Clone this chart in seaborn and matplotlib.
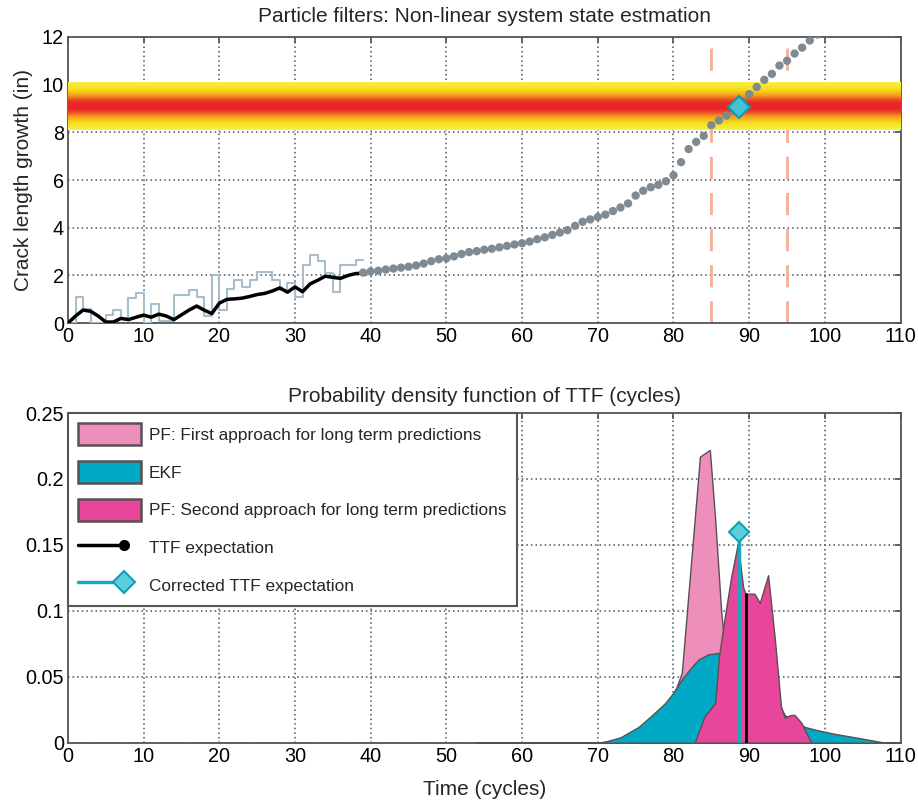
import numpy as np
import matplotlib
matplotlib.use("Agg")
import matplotlib.pyplot as plt
import seaborn as sns
from matplotlib.colors import LinearSegmentedColormap
from matplotlib.patches import Patch
from matplotlib.lines import Line2D
from matplotlib.legend_handler import HandlerBase
from matplotlib.ticker import FormatStrFormatter

# ---- top panel data ----
est_t = list(range(0, 40))
est_v = [0, 0.3, 0.55, 0.5, 0.3, 0.05, 0.05, 0.2, 0.15, 0.25,
         0.34, 0.25, 0.38, 0.3, 0.15, 0.35, 0.55, 0.72, 0.55, 0.4,
         0.84, 1.0, 1.02, 1.05, 1.12, 1.2, 1.25, 1.35, 1.48, 1.3,
         1.52, 1.32, 1.65, 1.8, 1.97, 1.92, 1.88, 2.0, 2.08, 2.1]

meas_t = list(range(0, 40))
meas_v = [0, 1.1, 0.6, 0, 0, 0.35, 0.55, 0.2, 1.05, 1.25,
          0, 0.8, 0.1, 0.1, 1.2, 1.2, 1.4, 1.1, 0.3, 2.0,
          0.55, 1.45, 1.8, 1.5, 1.8, 2.15, 2.15, 1.8, 1.4, 1.7,
          1.1, 2.45, 2.85, 2.6, 2.1, 1.3, 2.45, 2.45, 2.65, 2.65]

pred_t = list(range(39, 100))
pred_v = [2.12, 2.17, 2.2, 2.25, 2.29, 2.33, 2.37, 2.42, 2.5, 2.6,
          2.68, 2.72, 2.8, 2.9, 2.98, 3.02, 3.08, 3.12, 3.18, 3.24,
          3.3, 3.35, 3.42, 3.52, 3.6, 3.7, 3.8, 3.9, 4.08, 4.25,
          4.35, 4.45, 4.55, 4.7, 4.85, 5.02, 5.35, 5.55, 5.7, 5.8,
          5.95, 6.2, 6.75, 7.3, 7.6, 7.85, 8.3, 8.5, 8.7, 8.95,
          9.1, 9.6, 9.9, 10.2, 10.45, 10.8, 11.0, 11.3, 11.55, 11.85, 12.1]

threshold_center = 9.1
threshold_half = 1.0
bounds_t = [85, 95]
cross_t, cross_v = 88.6, 9.05

# ---- bottom panel data ----
pf1_t = [54, 70, 76, 79, 81.1, 82.3, 83.5, 84.8, 85.5, 86.3, 87.2, 88.2, 90, 110]
pf1_v = [0, 0, 0.005, 0.02, 0.053, 0.135, 0.217, 0.222, 0.17, 0.1, 0.045, 0.01, 0, 0]

ekf_t = [70.5, 73, 75.4, 77, 78.9, 80, 81.1, 82.2, 83.3, 84.6, 85.9, 87, 88, 89,
         90, 91, 92, 93, 94, 94.7, 96, 97.3, 98.6, 101, 103, 105, 107.9]
ekf_v = [0, 0.004, 0.012, 0.02, 0.03, 0.038, 0.048, 0.056, 0.063, 0.067, 0.068, 0.066,
         0.062, 0.057, 0.052, 0.046, 0.04, 0.034, 0.028, 0.021, 0.016, 0.012, 0.01,
         0.007, 0.005, 0.003, 0]

pf2_t = [82.8, 84.1, 85.5, 86, 86.8, 87.6, 88.5, 89.2, 89.5, 90.7, 91.4, 92.5,
         93.4, 94.2, 94.7, 95.5, 96, 96.9, 98.2]
pf2_v = [0, 0.02, 0.03, 0.065, 0.096, 0.125, 0.151, 0.118, 0.113, 0.113, 0.106,
         0.127, 0.078, 0.0275, 0.019, 0.021, 0.021, 0.015, 0]

ttf_t, ttf_v = 89.55, 0.113
cttf_t, cttf_v = 88.6, 0.16

labels = ["PF: First approach for long term predictions", "EKF",
          "PF: Second approach for long term predictions", "TTF expectation",
          "Corrected TTF expectation"]

c_pf1 = "#EE8EBB"
c_ekf = "#00A9C6"
c_pf2 = "#E8469A"
c_edge = "#5a4f52"
c_cttf = "#1AA8BE"


class EndMarker(HandlerBase):
    # line from the left, marker at ~3/4 of the handle
    def create_artists(self, legend, orig, xd, yd, w, h, fs, trans):
        y = (h - yd) / 2
        xm = -xd + 0.72 * w
        ln = Line2D([-xd, xm], [y, y], color=orig.get_color(),
                    lw=orig.get_linewidth(), transform=trans)
        mk = Line2D([xm], [y], marker=orig.get_marker(), ms=orig.get_markersize(),
                    mfc=orig.get_markerfacecolor(), mec=orig.get_markeredgecolor(),
                    mew=orig.get_markeredgewidth(), ls="none", transform=trans)
        return [ln, mk]


sns.set_theme(style="white")
plt.rcParams["font.family"] = ["Liberation Sans", "DejaVu Sans"]
plt.rcParams["axes.edgecolor"] = "#555555"

fig = plt.figure(figsize=(9.18, 8.02), dpi=100)
ax1 = fig.add_axes([0.074, 0.597, 0.907, 0.357])
ax2 = fig.add_axes([0.074, 0.074, 0.907, 0.411])


def style_axes(ax):
    ax.grid(True, linestyle=(0, (1, 2)), color="#3f5565", linewidth=1.1)
    ax.set_axisbelow(True)
    ax.tick_params(direction="in", length=4, top=True, right=True,
                   labelsize=14.3, colors="#555555", labelcolor="black", pad=3)
    for s in ax.spines.values():
        s.set_linewidth(1.3)
        s.set_color("#555555")
    ax.set_xlim(0, 110)
    ax.set_xticks(range(0, 111, 10))


# ---- top ----
style_axes(ax1)
ax1.set_ylim(0, 12)
ax1.set_yticks(range(0, 13, 2))

for bt in bounds_t:
    ax1.axvline(bt, color="#F6AE96", lw=2, dashes=(8, 5), zorder=2)

cmap = LinearSegmentedColormap.from_list(
    "band", [(0, "#F6F04A"), (0.3, "#F7DF18"), (0.55, "#F4A21C"),
             (0.75, "#EC4A26"), (0.88, "#E8282A"), (1, "#E8262A")])
grad = 1 - np.abs(np.linspace(-1, 1, 200))
ax1.imshow(grad[:, None], extent=(0, 110, threshold_center - threshold_half,
                                  threshold_center + threshold_half),
           aspect="auto", cmap=cmap, origin="lower", zorder=3)

sns.lineplot(x=meas_t, y=meas_v, ax=ax1, color="#A9BECD", lw=1.5,
             drawstyle="steps-post", zorder=4)
sns.lineplot(x=est_t, y=est_v, ax=ax1, color="black", lw=2.5, zorder=5)
sns.scatterplot(x=pred_t, y=pred_v, ax=ax1, color="#7F8A92", s=36,
                edgecolor="none", zorder=6)
ax1.plot([cross_t], [cross_v], marker="D", ms=11, mfc="#45C3D3",
         mec="#0C9BB2", mew=1.5, zorder=7)

ax1.set_title("Particle filters: Non-linear system state estmation",
              fontsize=15, pad=11)
ax1.set_ylabel("Crack length growth (in)", fontsize=15, labelpad=6)
ax1.set_xlabel("")

# ---- bottom ----
style_axes(ax2)
ax2.set_ylim(0, 0.25)
ax2.set_yticks([0, 0.05, 0.1, 0.15, 0.2, 0.25])
ax2.yaxis.set_major_formatter(FormatStrFormatter("%g"))

ax2.fill_between(pf1_t, pf1_v, color=c_pf1, edgecolor=c_edge, lw=1, zorder=3)
ax2.fill_between(ekf_t, ekf_v, color=c_ekf, edgecolor=c_edge, lw=1, zorder=4)
ax2.fill_between(pf2_t, pf2_v, color=c_pf2, edgecolor=c_edge, lw=1, zorder=5)
ax2.plot([ttf_t, ttf_t], [0, ttf_v], color="black", lw=2, zorder=6)
ax2.plot([cttf_t, cttf_t], [0, cttf_v], color=c_cttf, lw=2.5, zorder=6)
ax2.plot([cttf_t], [cttf_v], marker="D", ms=10, mfc="#5CCFDC",
         mec="#10A0B5", mew=1.5, zorder=7)

handles = [
    Patch(facecolor=c_pf1, edgecolor=c_edge, lw=1.8),
    Patch(facecolor=c_ekf, edgecolor=c_edge, lw=1.8),
    Patch(facecolor=c_pf2, edgecolor=c_edge, lw=1.8),
    Line2D([0], [0], color="black", lw=2.5, marker="o", ms=7,
           mfc="black", mec="black", mew=1),
    Line2D([0], [0], color=c_cttf, lw=2.5, marker="D", ms=11,
           mfc="#5CCFDC", mec="#10A0B5", mew=1.5),
]
leg = ax2.legend(handles, labels, loc="upper left", bbox_to_anchor=(0, 1),
                 borderaxespad=0, fancybox=False, framealpha=1, fontsize=12.4,
                 edgecolor="#555555", handlelength=3.66, handleheight=1.6,
                 labelspacing=0.9, borderpad=0.6, handletextpad=0.45,
                 handler_map={Line2D: EndMarker()})
leg.get_frame().set_linewidth(1.5)
leg.set_zorder(10)

ax2.set_title("Probability density function of TTF (cycles)", fontsize=15, pad=8)
ax2.set_xlabel("Time (cycles)", fontsize=15, labelpad=10)

fig.savefig("out.png", dpi=100)
